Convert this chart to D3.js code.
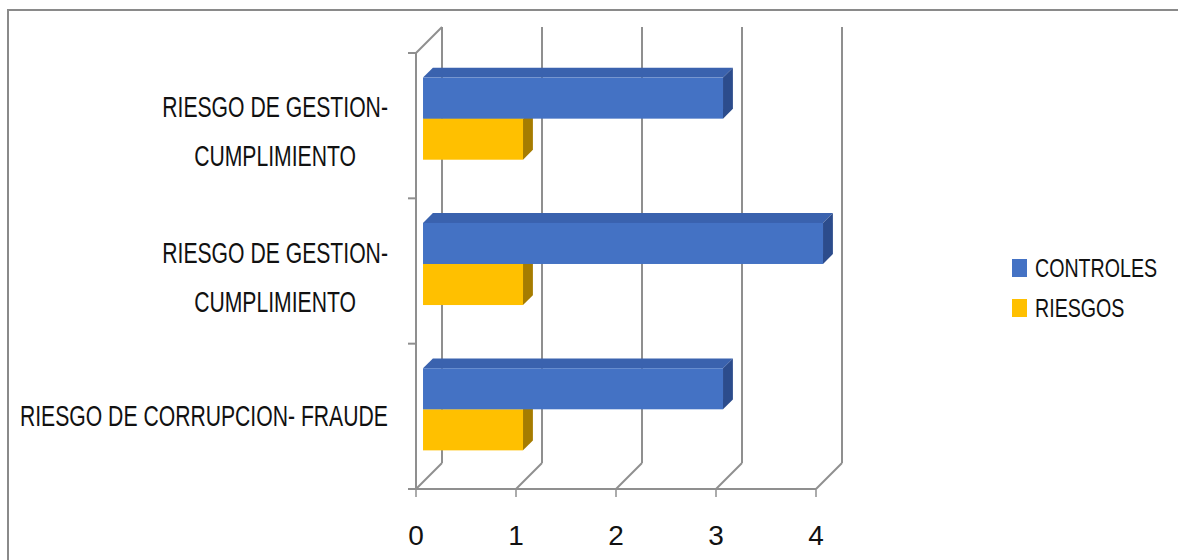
<!DOCTYPE html>
<html>
<head>
<meta charset="utf-8">
<script src="https://cdn.jsdelivr.net/npm/d3@7"></script>
<style>
  html, body { margin: 0; padding: 0; background: #ffffff; }
  svg { display: block; }
  text { font-family: "Liberation Sans", Arial, sans-serif; fill: #111; }
</style>
</head>
<body>
<svg id="chart" width="1178" height="560"></svg>
<script>
// ---- data (Excel order: first category at bottom) ----
const categories = [
  "RIESGO DE CORRUPCION- FRAUDE",
  "RIESGO DE GESTION-\nCUMPLIMIENTO",
  "RIESGO DE GESTION-\nCUMPLIMIENTO"
];
const seriesNames = ["CONTROLES", "RIESGOS"];
const controles = [3, 4, 3];
const riesgos = [1, 1, 1];
const xTicks = [0, 1, 2, 3, 4];

// ---- styling / layout ----
const colors = {
  CONTROLES: { front: "#4472C4", top: "#3A62AE", side: "#2C4C8C" },
  RIESGOS:   { front: "#FFC000", top: "#D9A300", side: "#A67C00" }
};
const gridColor = "#8f8f8f";
const plot = { left: 416, right: 816, top: 53, bottom: 489 };
const depth = 26;             // 3D offset of the back wall
const barFront = 0.27, barBack = 0.65;  // bar depth as fraction of full depth

const svg = d3.select("#chart");

// outer chart border
svg.append("rect").attr("x", 8).attr("y", 10).attr("width", 1200).attr("height", 600)
  .attr("fill", "none").attr("stroke", "#8a8a8a").attr("stroke-width", 2);

const x = d3.scaleLinear().domain([0, 4]).range([plot.left, plot.right]);
// categories: index 0 at bottom
const idx = categories.map((d, i) => i);
const y = d3.scaleBand().domain(idx.slice().reverse()).range([plot.top, plot.bottom]).padding(0);
const ySub = d3.scaleBand().domain(seriesNames).range([0, y.bandwidth()]).paddingInner(0).paddingOuter(0.77);

const off = t => [depth * t, -depth * t];

// ---- walls & gridlines ----
const g = svg.append("g");
const [bx, by] = off(1);
// back vertical gridlines
g.selectAll("line.grid").data(xTicks).join("line")
  .attr("x1", d => x(d) + bx).attr("x2", d => x(d) + bx)
  .attr("y1", plot.top + by).attr("y2", plot.bottom + by)
  .attr("stroke", gridColor).attr("stroke-width", 2);
// floor diagonals
g.selectAll("line.diag").data(xTicks).join("line")
  .attr("x1", d => x(d)).attr("x2", d => x(d) + bx)
  .attr("y1", plot.bottom).attr("y2", plot.bottom + by)
  .attr("stroke", gridColor).attr("stroke-width", 2);
// left wall top diagonal
g.append("line").attr("x1", plot.left).attr("y1", plot.top)
  .attr("x2", plot.left + bx).attr("y2", plot.top + by)
  .attr("stroke", gridColor).attr("stroke-width", 2);
// front vertical axis
g.append("line").attr("x1", plot.left).attr("x2", plot.left)
  .attr("y1", plot.top).attr("y2", plot.bottom)
  .attr("stroke", gridColor).attr("stroke-width", 2);
// front floor axis
g.append("line").attr("x1", plot.left - 8).attr("x2", x(4))
  .attr("y1", plot.bottom).attr("y2", plot.bottom)
  .attr("stroke", gridColor).attr("stroke-width", 2);
// category tick marks
const catBounds = idx.map(i => y(i)).concat([plot.bottom]);
g.selectAll("line.ctick").data(catBounds).join("line")
  .attr("x1", plot.left - 8).attr("x2", plot.left)
  .attr("y1", d => d).attr("y2", d => d)
  .attr("stroke", gridColor).attr("stroke-width", 2);
// value tick marks
g.selectAll("line.vtick").data(xTicks).join("line")
  .attr("x1", d => x(d)).attr("x2", d => x(d))
  .attr("y1", plot.bottom).attr("y2", plot.bottom + 8)
  .attr("stroke", gridColor).attr("stroke-width", 1.5);

// ---- 3D bars ----
const bars = [];
idx.forEach(i => {
  bars.push({ cat: i, s: "RIESGOS", v: riesgos[i] });
  bars.push({ cat: i, s: "CONTROLES", v: controles[i] });
});
const [fx, fy] = off(barFront);
const dd = depth * (barBack - barFront);
const bg = svg.append("g");
bars.forEach(b => {
  const x0 = x(0) + fx, x1 = x(b.v) + fx;
  const y0 = y(b.cat) + ySub(b.s) + fy, y1 = y0 + ySub.bandwidth();
  const c = colors[b.s];
  const gb = bg.append("g");
  // top face
  gb.append("path").attr("d", `M${x0},${y0}L${x0 + dd},${y0 - dd}L${x1 + dd},${y0 - dd}L${x1},${y0}Z`)
    .attr("fill", c.top);
  // side face
  gb.append("path").attr("d", `M${x1},${y0}L${x1 + dd},${y0 - dd}L${x1 + dd},${y1 - dd}L${x1},${y1}Z`)
    .attr("fill", c.side);
  // front face
  gb.append("rect").attr("x", x0).attr("y", y0).attr("width", x1 - x0).attr("height", y1 - y0)
    .attr("fill", c.front);
});

// ---- value tick labels ----
svg.selectAll("text.xt").data(xTicks).join("text")
  .attr("transform", d => `translate(${x(d)},545)`)
  .attr("text-anchor", "middle").attr("font-size", 28)
  .text(d => d);

// ---- category labels ----
const labSX = 0.73, labRight = 388, lineH = 49;
idx.forEach(i => {
  const lines = categories[i].split("\n");
  const c = y(i) + y.bandwidth() / 2;
  const firstBase = c + 10 - (lines.length - 1) * 18.5;
  const tg = svg.append("g");
  const ts = lines.map((ln, k) => tg.append("text")
    .attr("font-size", 29).attr("text-anchor", "middle").text(ln)
    .datum(k));
  const widths = ts.map(t => t.node().getComputedTextLength() * labSX);
  const maxW = d3.max(widths);
  const cx = labRight - maxW / 2;
  ts.forEach((t, k) => t.attr("transform", `translate(${cx},${firstBase + k * lineH}) scale(${labSX},1)`));
});

// ---- legend ----
const legSX = 0.77;
const leg = svg.append("g");
seriesNames.forEach((s, k) => {
  const base = 277 + k * 40;
  leg.append("rect").attr("x", 1012).attr("y", base - 18).attr("width", 15).attr("height", 18)
    .attr("fill", colors[s].front);
  leg.append("text").attr("transform", `translate(1035,${base}) scale(${legSX},1)`)
    .attr("font-size", 25.5).text(s);
});
</script>
</body>
</html>
